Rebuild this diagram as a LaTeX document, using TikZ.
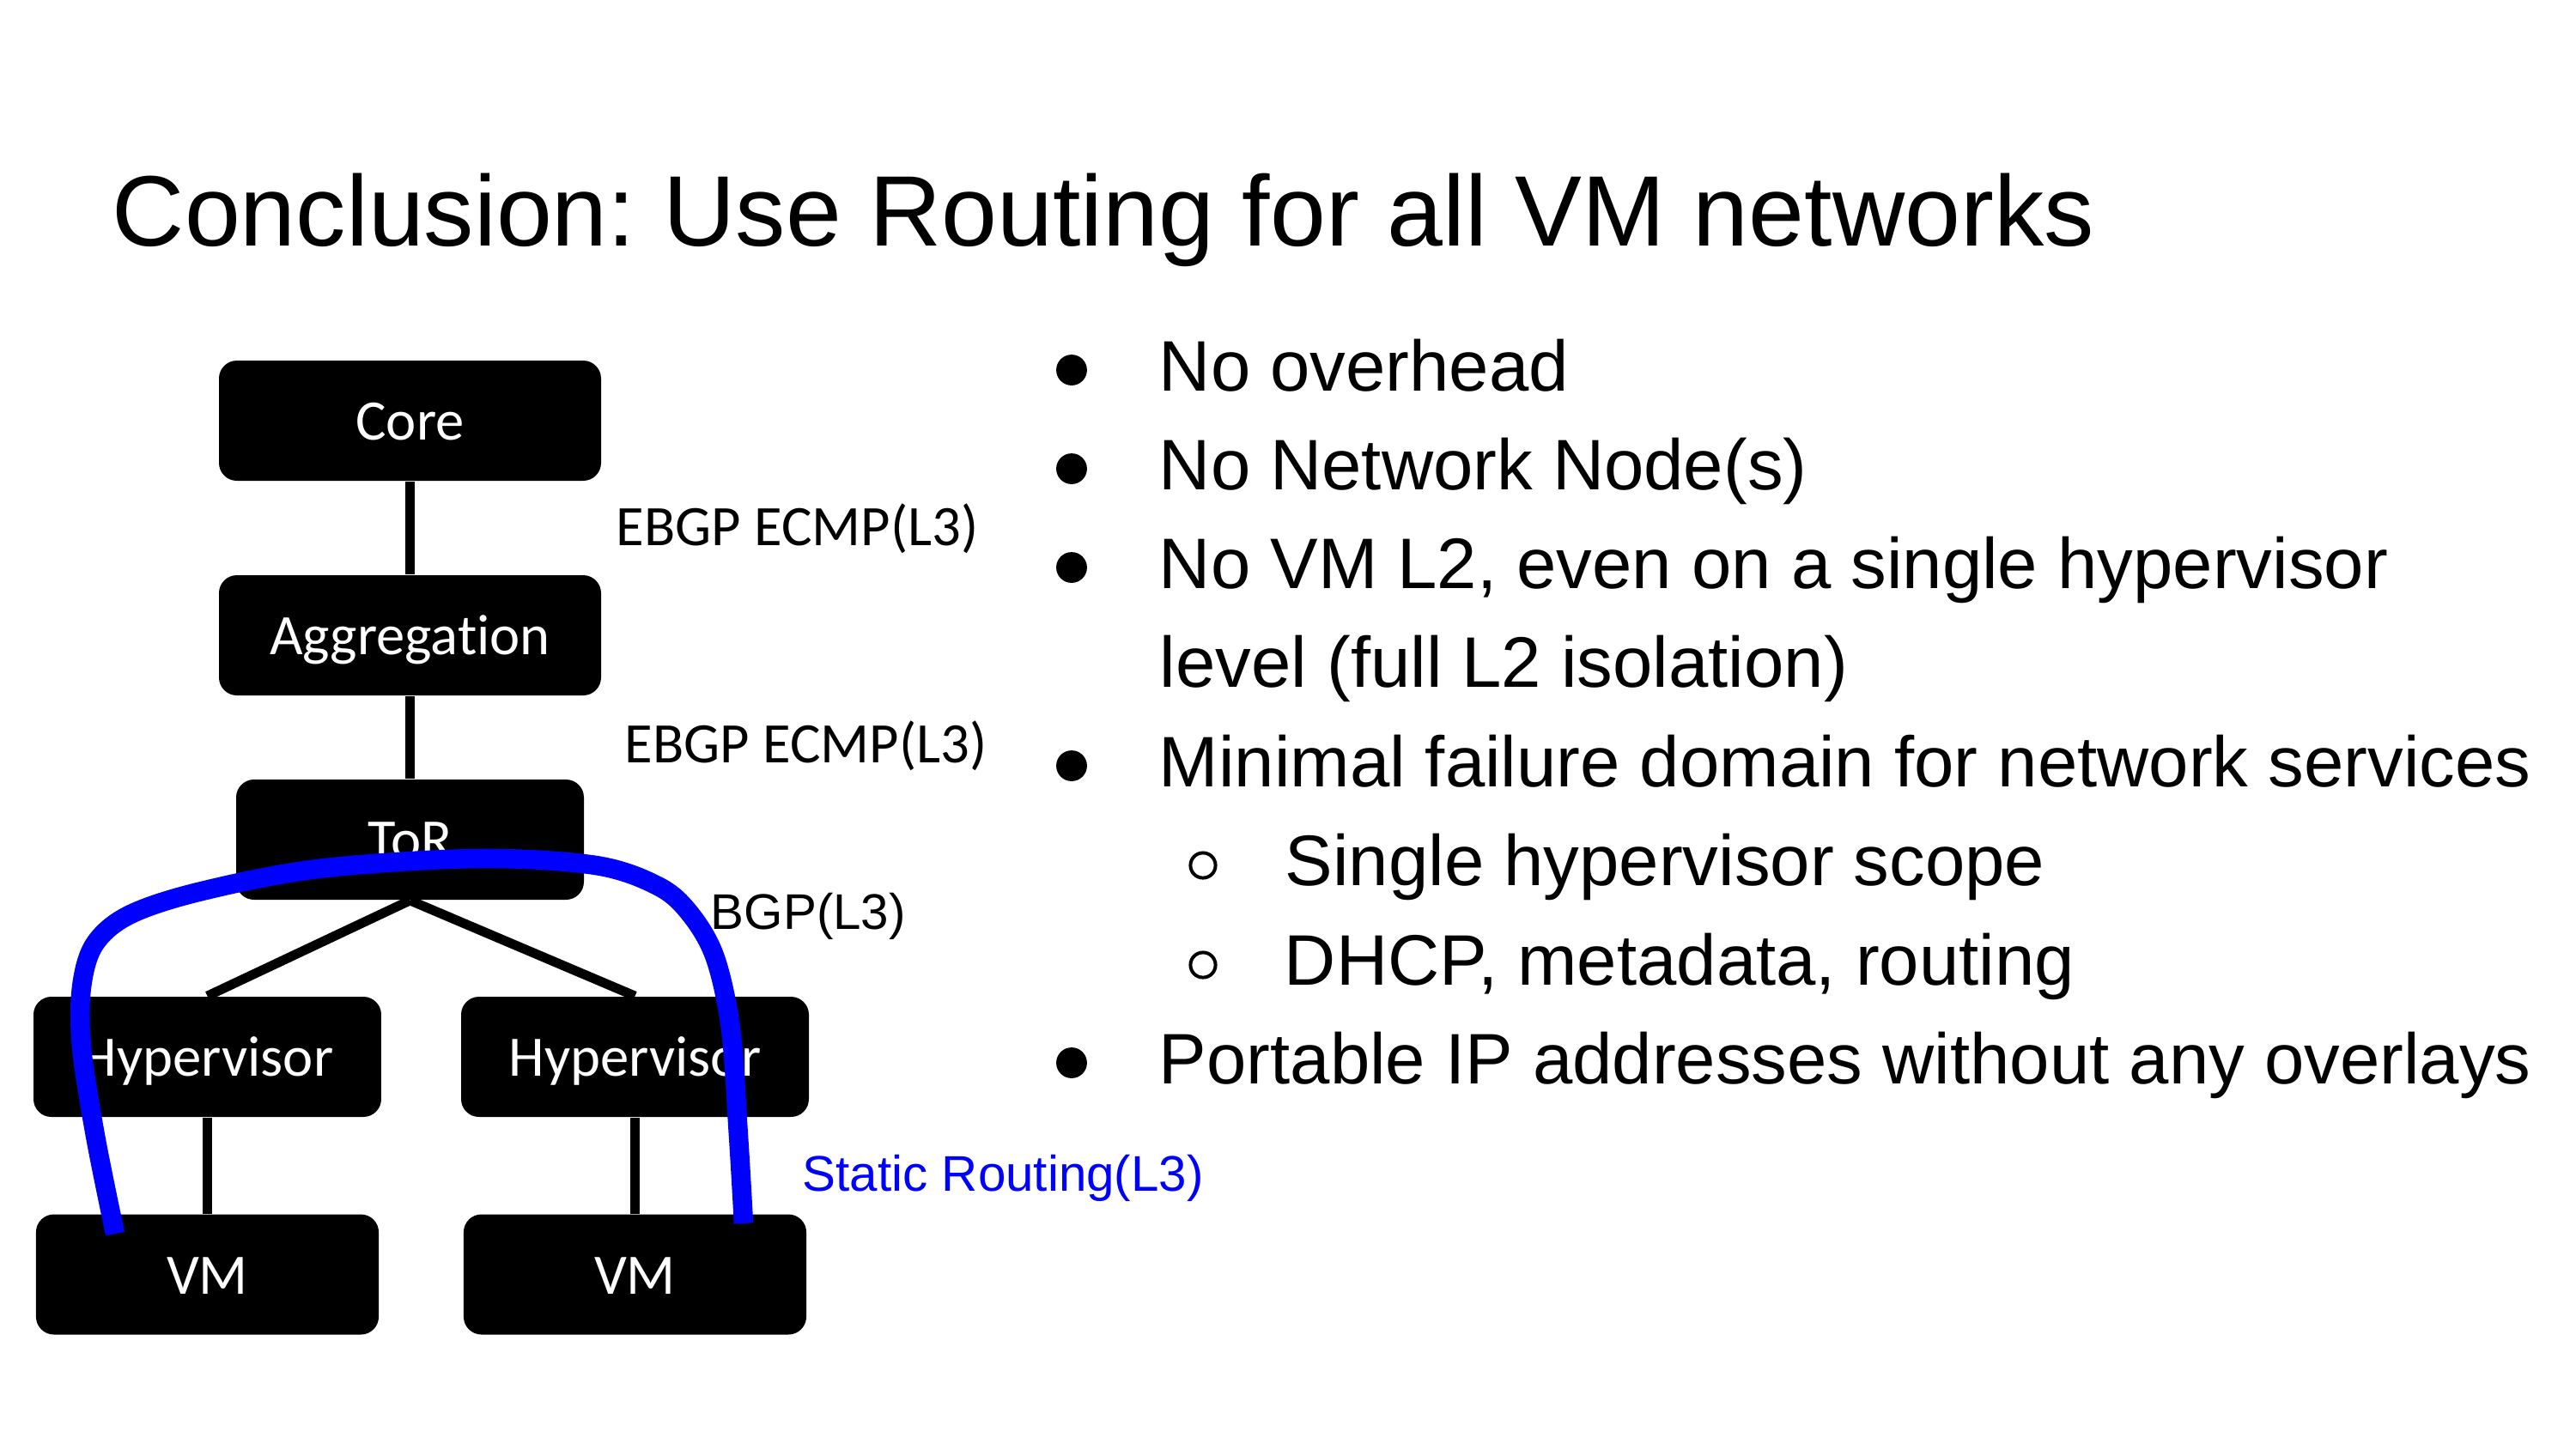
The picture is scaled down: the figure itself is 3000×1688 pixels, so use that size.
\documentclass[tikz,border=0pt]{standalone}
\usepackage{fontspec}
\setmainfont{Liberation Sans}
\newfontfamily\calibri[Ligatures=NoCommon]{Carlito}
\frenchspacing
\begin{document}
\begin{tikzpicture}[x=0.24pt,y=-0.24pt,
  box/.style={fill=black, rounded corners=5pt, text=white, font=\calibri\fontsize{16}{19}\selectfont, text height=11pt, text depth=0pt, inner sep=0pt, minimum height=33.6pt},
  widebox/.style={box, minimum width=106.8pt},
  midbox/.style={box, minimum width=97.2pt},
  vmbox/.style={box, minimum width=95.8pt},
  link/.style={line width=2.64pt},
  route/.style={draw=blue, line width=5.4pt},
  bodytext/.style={anchor=base west, inner sep=0pt, font=\fontsize{20}{24}\selectfont},
  lbl/.style={anchor=base west, inner sep=0pt, font=\calibri\fontsize{16}{19}\selectfont},
  albl/.style={anchor=base west, inner sep=0pt, font=\fontsize{14}{17}\selectfont},
  dotbullet/.style={fill=black, circle, inner sep=0pt, minimum size=8.6pt},
  ringbullet/.style={draw=black, line width=0.95pt, circle, inner sep=0pt, minimum size=7pt},
]
\path[use as bounding box, fill=white] (0,0) rectangle (3000,1688);

% title
\node[anchor=base west, inner sep=0pt, font=\fontsize{28}{34}\selectfont] (title) at (130,286) {Conclusion: Use Routing for all VM networks};

% boxes
\node[widebox] (core) at (477.5,490) {Core};
\node[widebox] (agg) at (477.5,740) {Aggregation};
\node[midbox] (tor) at (477.5,978) {ToR};
\node[midbox] (hypl) at (241.5,1231) {Hypervisor};
\node[midbox] (hypr) at (739.5,1231) {Hypervisor};
\node[vmbox] (vml) at (241.5,1484.5) {VM};
\node[vmbox] (vmr) at (739.5,1484.5) {VM};

% connectors
\draw[link] (core.south) -- (agg.north);
\draw[link] (agg.south) -- (tor.north);
\draw[link] (tor.south) -- (hypl.north);
\draw[link] (tor.south) -- (hypr.north);
\draw[link] (hypl.south) -- (vml.north);
\draw[link] (hypr.south) -- (vmr.north);

% labels
\node[lbl] (l1) at (717,635) {EBGP ECMP(L3)};
\node[lbl] (l2) at (727,888) {EBGP ECMP(L3)};
\node[albl] (l3) at (827,1082) {BGP(L3)};
\node[albl, text=blue] (l4) at (934,1387) {Static Routing(L3)};

% blue static route curve
\coordinate (rs) at (134,1437);
\coordinate (re) at (866,1425);
\draw[route] plot[smooth, tension=0.55] coordinates {(rs) (111,1323) (95,1220) (95,1150) (110,1100) (150,1066) (231,1039) (370,1012) (555,1000) (694,1008) (768,1033) (805,1066) (833,1116) (851,1199) (860,1323) (re)};

% bullets
\node[bodytext] (b1) at (1349,455) {No overhead};
\node[bodytext] (b2) at (1349,570) {No Network Node(s)};
\node[bodytext] (b3) at (1349,685) {No VM L2, even on a single hypervisor};
\node[bodytext] (b3b) at (1350,800) {level (full L2 isolation)};
\node[bodytext] (b4) at (1349,916) {Minimal failure domain for network services};
\node[bodytext] (s1) at (1496,1031) {Single hypervisor scope};
\node[bodytext] (s2) at (1495,1147) {DHCP, metadata, routing};
\node[bodytext] (b5) at (1349,1262) {Portable IP addresses without any overlays};

\node[dotbullet] (d1) at (1248,431) {};
\node[dotbullet] (d2) at (1248,546) {};
\node[dotbullet] (d3) at (1248,661) {};
\node[dotbullet] (d4) at (1248,892) {};
\node[dotbullet] (d5) at (1248,1238) {};
\node[ringbullet] (r1) at (1401,1008) {};
\node[ringbullet] (r2) at (1401,1124) {};
\end{tikzpicture}
\end{document}
